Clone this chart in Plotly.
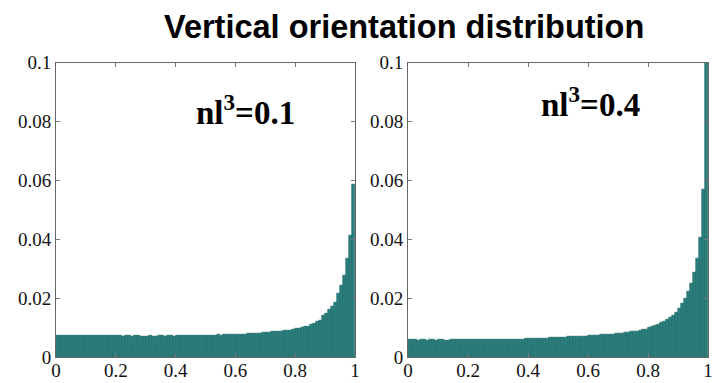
import plotly.graph_objects as go

bin_centers = [round(0.005 + 0.01 * i, 3) for i in range(100)]

dist_nl01 = [
    0.0072, 0.0073, 0.0073, 0.0072, 0.0073, 0.0073, 0.0072, 0.0073, 0.0073, 0.0072,
    0.0073, 0.0072, 0.0072, 0.0073, 0.0072, 0.0073, 0.0074, 0.0073, 0.0072, 0.0072,
    0.0073, 0.0072, 0.0071, 0.0072, 0.0072, 0.0071, 0.0072, 0.0072, 0.0071, 0.0071,
    0.0071, 0.0072, 0.0071, 0.0071, 0.0072, 0.0072, 0.0071, 0.0072, 0.0072, 0.0071,
    0.0072, 0.0072, 0.0073, 0.0072, 0.0072, 0.0073, 0.0072, 0.0073, 0.0073, 0.0073,
    0.0074, 0.0073, 0.0074, 0.0074, 0.0075, 0.0074, 0.0075, 0.0076, 0.0076, 0.0077,
    0.0077, 0.0078, 0.0078, 0.0078, 0.0079, 0.0080, 0.0080, 0.0081, 0.0081, 0.0082,
    0.0083, 0.0084, 0.0085, 0.0086, 0.0087, 0.0088, 0.0089, 0.0090, 0.0091, 0.0093,
    0.0096, 0.0098, 0.0100, 0.0102, 0.0105, 0.0110, 0.0114, 0.0119, 0.0125, 0.0140,
    0.0149, 0.0160, 0.0170, 0.0186, 0.0217, 0.0244, 0.0278, 0.0336, 0.0414, 0.0585,
]

dist_nl04 = [
    0.0058, 0.0058, 0.0058, 0.0057, 0.0058, 0.0058, 0.0057, 0.0058, 0.0058, 0.0057,
    0.0058, 0.0058, 0.0057, 0.0057, 0.0058, 0.0059, 0.0059, 0.0060, 0.0060, 0.0059,
    0.0059, 0.0059, 0.0060, 0.0060, 0.0059, 0.0059, 0.0060, 0.0060, 0.0060, 0.0060,
    0.0060, 0.0059, 0.0060, 0.0060, 0.0060, 0.0061, 0.0061, 0.0061, 0.0061, 0.0062,
    0.0062, 0.0062, 0.0063, 0.0063, 0.0063, 0.0064, 0.0064, 0.0065, 0.0065, 0.0066,
    0.0066, 0.0067, 0.0067, 0.0068, 0.0068, 0.0069, 0.0069, 0.0070, 0.0071, 0.0071,
    0.0072, 0.0073, 0.0073, 0.0074, 0.0075, 0.0075, 0.0076, 0.0077, 0.0078, 0.0079,
    0.0080, 0.0081, 0.0082, 0.0083, 0.0085, 0.0086, 0.0088, 0.0090, 0.0092, 0.0095,
    0.0100, 0.0103, 0.0106, 0.0110, 0.0116, 0.0122, 0.0128, 0.0134, 0.0141, 0.0150,
    0.0165, 0.0180, 0.0200, 0.0224, 0.0248, 0.0286, 0.0333, 0.0405, 0.0570, 0.1000,
]

x_ticks = [0, 0.2, 0.4, 0.6, 0.8, 1]
x_tick_labels = ["0", "0.2", "0.4", "0.6", "0.8", "1"]
y_ticks = [0, 0.02, 0.04, 0.06, 0.08, 0.1]
y_tick_labels = ["0", "0.02", "0.04", "0.06", "0.08", "0.1"]

title_text = "Vertical orientation distribution"
panel_labels = ["nl<sup>3</sup>=0.1", "nl<sup>3</sup>=0.4"]

bar_fill = "#2a7f7c"
bar_edge = "#1a6664"

fig = go.Figure()
fig.add_trace(go.Bar(x=bin_centers, y=dist_nl01, width=0.01, xaxis="x", yaxis="y",
                     marker=dict(color=bar_fill, line=dict(color=bar_edge, width=0.6)),
                     showlegend=False))
fig.add_trace(go.Bar(x=bin_centers, y=dist_nl04, width=0.01, xaxis="x2", yaxis="y2",
                     marker=dict(color=bar_fill, line=dict(color=bar_edge, width=0.6)),
                     showlegend=False))

tick_font = dict(family="Liberation Serif, Times New Roman, serif", size=19, color="#111")
common_x = dict(range=[0, 1], tickvals=x_ticks, ticktext=x_tick_labels, ticks="inside",
                ticklen=4, tickcolor="#777", showline=True, linecolor="#666", linewidth=1,
                mirror="ticks", showgrid=False, zeroline=False, tickfont=tick_font,
                automargin=False, ticklabelstandoff=-4)
common_y = dict(range=[0, 0.1], tickvals=y_ticks, ticktext=y_tick_labels, ticks="inside",
                ticklen=4, tickcolor="#777", showline=True, linecolor="#666", linewidth=1,
                mirror="ticks", showgrid=False, zeroline=False, tickfont=tick_font,
                automargin=False)

y_dom = [1 - 357 / 383, 1 - 62.5 / 383]
fig.update_layout(
    template="none",
    width=716, height=383,
    margin=dict(l=0, r=0, t=0, b=0, pad=0),
    paper_bgcolor="white", plot_bgcolor="white",
    bargap=0,
    xaxis=dict(domain=[56 / 716, 355 / 716], anchor="y", **common_x),
    yaxis=dict(domain=y_dom, anchor="x", **common_y),
    xaxis2=dict(domain=[408 / 716, 708 / 716], anchor="y2", **common_x),
    yaxis2=dict(domain=y_dom, anchor="x2", **common_y),
    annotations=[
        dict(text="<b>" + title_text + "</b>", xref="paper", yref="paper",
             x=404 / 716, y=1 - 27 / 383, xanchor="center", yanchor="middle",
             showarrow=False, font=dict(family="Liberation Sans, Arial, sans-serif", size=32.5, color="#000")),
        dict(text="<b>" + panel_labels[0] + "</b>", xref="paper", yref="paper",
             x=245 / 716, y=1 - 110 / 383, xanchor="center", yanchor="middle",
             showarrow=False, font=dict(family="Liberation Serif, Times New Roman, serif", size=33, color="#000")),
        dict(text="<b>" + panel_labels[1] + "</b>", xref="paper", yref="paper",
             x=590 / 716, y=1 - 102 / 383, xanchor="center", yanchor="middle",
             showarrow=False, font=dict(family="Liberation Serif, Times New Roman, serif", size=33, color="#000")),
    ],
)

fig.write_html("out.html", config={"displayModeBar": False},
               post_script="document.body.style.margin='0px';document.body.style.padding='0px';")
